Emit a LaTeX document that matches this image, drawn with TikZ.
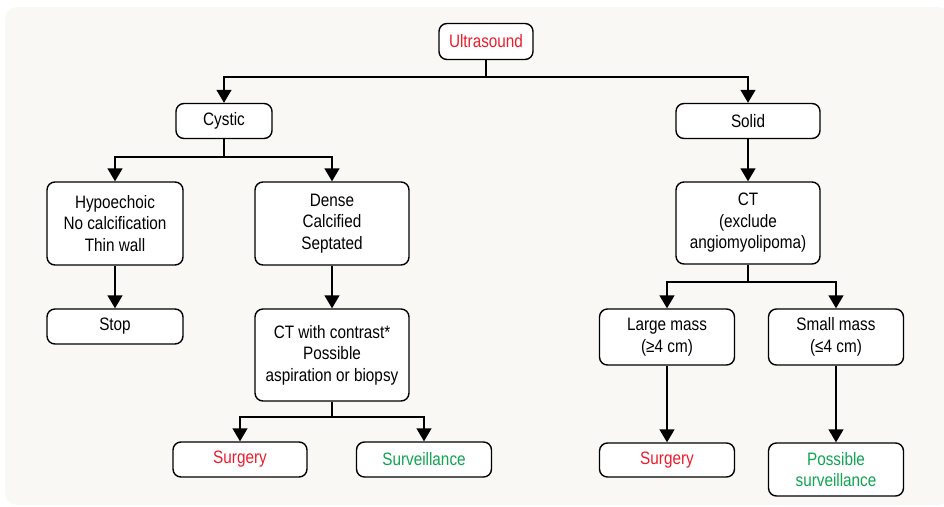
\documentclass[tikz,border=0pt]{standalone}
\usepackage{fontspec}
\setmainfont{Liberation Sans}[FakeStretch=0.85]
\usetikzlibrary{arrows.meta}
\definecolor{paper}{HTML}{F9F8F4}
\definecolor{alertred}{HTML}{EC1C2C}
\definecolor{okgreen}{HTML}{10A550}
\tikzset{
  flowbox/.style={draw=black, line width=1.4pt, rounded corners=8pt, fill=white,
    align=center, inner sep=0pt, font=\fontsize{18}{21.5}\selectfont},
  link/.style={line width=1.4pt},
  arr/.style={link, -{Triangle[width=15pt,length=13pt]}},
}
\begin{document}
\begin{tikzpicture}[x=1pt,y=-1pt]
\useasboundingbox (0,0) rectangle (944,506);
\fill[paper, rounded corners=12pt] (5,7) rectangle (950,505);

% top level
\node[flowbox, minimum width=94pt, minimum height=36pt, text=alertred] (us) at (486,41.5) {Ultrasound};
\node[flowbox, minimum width=96pt, minimum height=35pt] (cy) at (224,121) {Cystic};
\node[flowbox, minimum width=144pt, minimum height=35pt] (so) at (748,121) {Solid};

% cystic branch
\node[flowbox, minimum width=136pt, minimum height=83pt] (hy) at (115,223.5) {Hypoechoic\\No calcification\\Thin wall};
\node[flowbox, minimum width=154pt, minimum height=83pt] (de) at (332,223.5) {Dense\\Calcified\\Septated};
\node[flowbox, minimum width=136pt, minimum height=35pt] (st) at (115,326.5) {Stop};
\node[flowbox, minimum width=154pt, minimum height=92pt] (cc) at (332,355) {CT with contrast*\\Possible\\aspiration or biopsy};
\node[flowbox, minimum width=134pt, minimum height=35pt, text=alertred] (s1) at (240,459.5) {Surgery};
\node[flowbox, minimum width=135pt, minimum height=35pt, text=okgreen] (sv) at (424,459.5) {Surveillance};

% solid branch
\node[flowbox, minimum width=144pt, minimum height=82pt] (ct) at (748,223) {CT\\(exclude\\angiomyolipoma)};
\node[flowbox, minimum width=135pt, minimum height=56pt] (lm) at (667,337) {Large mass\\(≥4 cm)};
\node[flowbox, minimum width=135pt, minimum height=56pt] (sm) at (836,337) {Small mass\\(≤4 cm)};
\node[flowbox, minimum width=135pt, minimum height=34pt, text=alertred] (s2) at (667,460) {Surgery};
\node[flowbox, minimum width=135pt, minimum height=53pt, text=okgreen] (ps) at (836,469.5) {Possible\\surveillance};

% fork points
\coordinate (fus) at (486,77);
\coordinate (fcy) at (224,157);
\coordinate (fcc) at (332,417);
\coordinate (fct) at (748,282);

% connectors
\draw[link] (us.south) -- (fus);
\draw[arr] (fus) -| (cy.north);
\draw[arr] (fus) -| (so.north);

\draw[link] (cy.south) -- (fcy);
\draw[arr] (fcy) -| (hy.north);
\draw[arr] (fcy) -| (de.north);

\draw[arr] (hy.south) -- (st.north);
\draw[arr] (de.south) -- (cc.north);

\draw[link] (cc.south) -- (fcc);
\draw[arr] (fcc) -| (s1.north);
\draw[arr] (fcc) -| (sv.north);

\draw[arr] (so.south) -- (ct.north);
\draw[link] (ct.south) -- (fct);
\draw[arr] (fct) -| (lm.north);
\draw[arr] (fct) -| (sm.north);

\draw[arr] (lm.south) -- (s2.north);
\draw[arr] (sm.south) -- (ps.north);
\end{tikzpicture}
\end{document}
